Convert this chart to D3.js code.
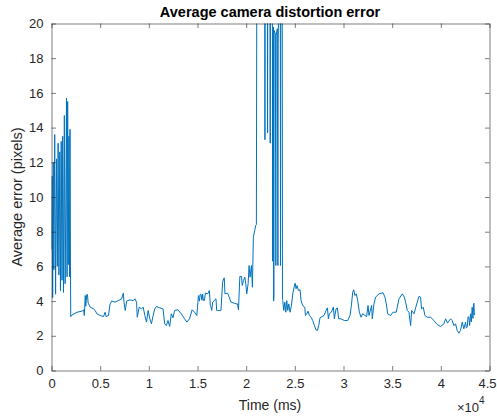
<!DOCTYPE html>
<html>
<head>
<meta charset="utf-8">
<script src="https://cdn.jsdelivr.net/npm/d3@7"></script>
<style>
  body { margin: 0; background: #fff; }
  svg { display: block; font-family: "Liberation Sans", Arial, Helvetica, sans-serif; }
</style>
</head>
<body>
<svg id="chart" width="497" height="417"></svg>
<script>
  // time (ms) and average error (pixels)
  var timeMs = [
    0, 60, 120, 180, 240, 330, 420, 520, 600, 680, 760, 850, 920, 1000, 1080, 1150, 1230, 1320,
    1400, 1480, 1540, 1600, 1660, 1720, 1790, 1850, 1900, 1950, 1975,
    2110, 2620, 3130, 3300, 3370, 3470, 3520, 3570, 3630, 3700, 3760, 3810, 3980, 4320, 4490, 4660,
    5000, 5340, 5510, 5610, 5850, 6020, 6190, 6530, 6870, 7210, 7380, 7450, 7580, 7720, 8060,
    8400, 8570, 8740, 8810, 9010, 9250, 9420, 9590, 9760, 9930, 10100, 10270, 10440, 10610,
    10780, 11120, 11460, 11630, 11800, 11970, 12140, 12310, 12480, 12650, 12990, 13330, 13670,
    13910, 14180, 14450, 14690, 14930, 15100, 15200, 15280, 15370, 15450, 15530, 15610, 15710,
    15810, 16050, 16220, 16320,
    16390, 16460, 16560, 16730, 16830, 16900, 16970, 17070, 17240, 17410, 17580, 17680, 17750,
    17820, 18090, 18260, 18430, 18770, 19010, 19110, 19210, 19350, 19520, 19600, 19720, 19860,
    19960, 20060, 20200, 20300, 20400, 20540, 20640, 20740, 20880, 20980, 21050,
    21100, 21900, 21930, 21960, 22170, 22200, 22230, 22440, 22470, 22500, 22690, 22715, 22740,
    22800, 22820, 22850, 22870, 23000, 23050, 23080, 23200, 23260, 23290, 23400, 23500, 23530,
    23560, 23700, 23730,
    23760, 23865, 23970, 24070, 24170, 24275, 24380, 24515, 24650, 24790, 24925, 25030, 25130,
    25230, 25370, 25540, 25640, 25745, 25880, 26020, 26090, 26225, 26360, 26500, 26670, 26840,
    27010, 27180, 27320, 27455, 27590, 27800, 28000, 28210, 28345, 28450, 28550, 28755, 28960,
    29060, 29235, 29370, 29510, 29750, 30090, 30430, 30670, 30810, 30945, 31050, 31180, 31320,
    31460, 31630, 31800, 31970, 32210, 32380, 32520, 32620, 32890, 32960, 33130, 33300, 33650,
    34060, 34260, 34400, 34535, 34840, 35080, 35420, 35700, 36040, 36245, 36380, 36550, 36725,
    36895, 37000, 37240, 37410, 37750, 37920, 38020, 38195, 38365, 38600, 38950, 39290, 39630,
    39970, 40315, 40490, 40690, 41000, 41170, 41340, 41510, 41680, 41850, 42025, 42200, 42365,
    42540, 42620, 42710, 42800, 42880, 42960, 43050, 43130, 43220, 43300, 43390, 43450, 43500
  ];
  var avgError = [
    7.0, 11.2, 4.2, 12.0, 5.8, 13.6, 4.4, 12.2, 6.0, 13.1, 5.5, 12.6, 4.6, 13.2, 5.2, 13.5, 4.5, 14.7,
    5.0, 9.8, 15.7, 5.4, 15.5, 6.1, 13.5, 5.4, 13.9, 6.0, 3.11,
    3.2, 3.36, 3.42, 3.5, 3.17, 4.32, 3.7, 4.03, 4.4, 4.36, 3.9, 3.84, 3.65, 3.55, 3.46, 3.27,
    3.17, 3.11, 3.36, 3.11, 3.17, 3.84, 4.0, 3.94, 4.03, 4.13, 4.46, 3.94, 3.46, 4.0, 4.07,
    4.03, 4.13, 3.94, 3.07, 3.65, 3.55, 3.65, 3.17, 2.79, 3.46, 2.98, 2.69, 3.17, 3.55,
    3.69, 3.61, 3.55, 2.69, 2.59, 2.88, 2.54, 3.27, 3.04, 3.46, 3.5, 3.27, 2.98,
    2.79, 2.98, 3.5, 3.36, 3.17, 4.32, 4.0, 4.4, 4.38, 4.05, 4.4, 4.03, 4.03,
    4.46, 4.42, 4.61, 3.75,
    3.65, 3.46, 3.94, 4.03, 4.11, 4.13, 3.46, 3.46, 3.46, 3.46, 5.09, 5.28, 5.34,
    4.42, 4.46, 4.23, 3.94, 3.88, 3.84, 3.84, 3.5, 5.42, 5.42, 4.9, 5.19, 5.38,
    5.0, 4.42, 5.0, 6.05, 5.38, 6.05, 4.8, 7.68, 8.07, 8.36, 8.41,
    25, 25, 13.3, 25, 25, 13.7, 25, 25, 13.1, 25, 25, 6.3, 19.5,
    19.8, 4.0, 4.2, 19.6, 19.4, 6.05, 19.3, 19.7, 6.05, 18.8, 25, 25, 6.05,
    25, 25, 4.1,
    4.03, 3.46, 3.94, 3.36, 4.03, 3.46, 3.84, 3.36, 3.75, 4.42, 4.8, 5.03, 4.71,
    4.9, 4.61, 4.65, 4.03, 3.84, 3.69, 3.65, 3.17, 3.27, 3.42, 3.17, 3.07, 2.88,
    2.59, 2.34, 2.31, 2.59, 3.04, 3.11, 3.17, 3.46, 3.61, 2.98, 3.27, 3.36, 3.65,
    2.98, 3.55, 3.61, 2.98, 2.98, 2.88, 2.88, 3.17, 3.75, 4.51, 4.65, 4.32, 4.42,
    4.03, 3.36, 3.07, 3.27, 3.17, 3.11, 3.75, 3.17, 3.75, 2.98, 3.84, 4.23, 4.42,
    4.48, 4.23, 3.84, 3.27, 3.17, 3.36, 3.36, 4.13, 4.42, 4.23, 3.94, 3.46, 3.36,
    2.59, 3.46, 3.27, 3.61, 4.27, 4.23, 3.55, 3.65, 3.17, 3.07, 3.07, 2.88, 2.65,
    2.54, 2.69, 2.98, 2.73, 2.98, 2.88, 2.59, 2.69, 2.31, 2.15, 2.31, 2.79, 2.4,
    2.79, 2.45, 2.5, 3.1, 3.07, 2.6, 3.27, 2.8, 3.65, 3.0, 3.88, 3.2, 3.27
  ];
  var xTicks = [0, 5000, 10000, 15000, 20000, 25000, 30000, 35000, 40000, 45000];
  var xTickLabels = ["0", "0.5", "1", "1.5", "2", "2.5", "3", "3.5", "4", "4.5"];
  var yTicks = [0, 2, 4, 6, 8, 10, 12, 14, 16, 18, 20];

  var svg = d3.select("#chart");
  var box = { left: 51.5, right: 489.5, top: 23.5, bottom: 370.5 };
  var axisColor = "#262626";

  var x = d3.scaleLinear().domain([0, 45000]).range([box.left, box.right]);
  var y = d3.scaleLinear().domain([0, 20]).range([box.bottom, box.top]);

  svg.append("clipPath")
    .attr("id", "plot-clip")
    .append("rect")
    .attr("x", box.left)
    .attr("y", box.top)
    .attr("width", box.right - box.left)
    .attr("height", box.bottom - box.top);

  var points = timeMs.map(function (t, i) {
    return [t, avgError[i]];
  });

  // DATA LINE
  svg.append("path")
    .datum(points)
    .attr("clip-path", "url(#plot-clip)")
    .attr("fill", "none")
    .attr("stroke", "#0072BD")
    .attr("stroke-width", 1)
    .attr("stroke-linejoin", "round")
    .attr("d", d3.line()
      .x(function (d) { return x(d[0]); })
      .y(function (d) { return y(d[1]); }));

  // AXES (box with inward ticks on all sides)
  var tickLen = 4.5;
  var xAxisB = d3.axisBottom(x).tickValues(xTicks).tickSizeInner(-tickLen).tickSizeOuter(0)
    .tickPadding(8).tickFormat(function (d, i) { return xTickLabels[i]; });
  var xAxisT = d3.axisTop(x).tickValues(xTicks).tickSizeInner(-tickLen).tickSizeOuter(0)
    .tickFormat("");
  var yAxisL = d3.axisLeft(y).tickValues(yTicks).tickSizeInner(-tickLen).tickSizeOuter(0)
    .tickPadding(8).tickFormat(d3.format("d"));
  var yAxisR = d3.axisRight(y).tickValues(yTicks).tickSizeInner(-tickLen).tickSizeOuter(0)
    .tickFormat("");

  var axes = [
    svg.append("g").attr("transform", "translate(0," + box.bottom + ")").call(xAxisB),
    svg.append("g").attr("transform", "translate(0," + box.top + ")").call(xAxisT),
    svg.append("g").attr("transform", "translate(" + box.left + ",0)").call(yAxisL),
    svg.append("g").attr("transform", "translate(" + box.right + ",0)").call(yAxisR)
  ];
  axes.forEach(function (g) {
    g.select(".domain").attr("stroke", axisColor).attr("stroke-width", 0.6);
    g.selectAll(".tick line").attr("stroke", axisColor).attr("stroke-width", 0.6);
    g.selectAll(".tick text")
      .attr("fill", axisColor)
      .style("font-size", "13px")
      .style("font-family", "Liberation Sans, Arial, sans-serif");
  });
  // last label sits at the window edge, as in the reference
  axes[0].selectAll(".tick text").filter(function (d) { return d === 45000; }).attr("dx", -2.5);

  // LABELS
  svg.append("text")
    .attr("x", 270)
    .attr("y", 17)
    .attr("text-anchor", "middle")
    .style("font-size", "14.5px")
    .style("font-weight", "bold")
    .attr("fill", "#000")
    .text("Average camera distortion error");

  svg.append("text")
    .attr("x", 270)
    .attr("y", 410)
    .attr("text-anchor", "middle")
    .style("font-size", "14px")
    .attr("fill", axisColor)
    .text("Time (ms)");

  svg.append("text")
    .attr("transform", "translate(22,197) rotate(-90)")
    .attr("text-anchor", "middle")
    .style("font-size", "14.5px")
    .attr("fill", axisColor)
    .text("Average error (pixels)");

  var expo = svg.append("text")
    .attr("x", 457)
    .attr("y", 412)
    .style("font-size", "13px")
    .attr("fill", axisColor);
  expo.append("tspan").text("\u00d710");
  expo.append("tspan").attr("dy", -8).style("font-size", "10px").text("4");
</script>
</body>
</html>
